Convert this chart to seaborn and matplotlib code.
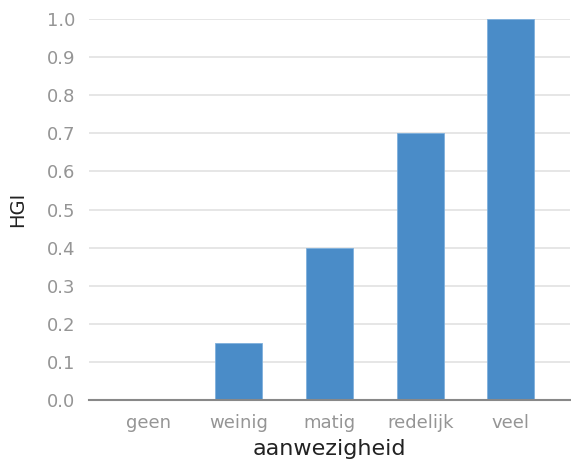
import matplotlib
matplotlib.use("Agg")
import matplotlib.pyplot as plt
import seaborn as sns
import pandas as pd

# Data
categories = ["geen", "weinig", "matig", "redelijk", "veel"]
hgi_values = [0.0, 0.15, 0.40, 0.70, 1.00]
y_ticks = [0.0, 0.1, 0.2, 0.3, 0.4, 0.5, 0.6, 0.7, 0.8, 0.9, 1.0]

df = pd.DataFrame({"aanwezigheid": categories, "HGI": hgi_values})

sns.set_theme(style="white")
plt.rcParams["font.family"] = ["DejaVu Sans"]

fig = plt.figure(figsize=(5.71, 4.67), dpi=100)
ax = fig.add_axes([0.156, 0.1435, 0.842, 0.8155])

sns.barplot(data=df, x="aanwezigheid", y="HGI", color="#4a8cc8",
            saturation=1, width=0.52, ax=ax, zorder=3,
            edgecolor="#7fb0dc", linewidth=0.6)

ax.set_xlim(-0.65, 4.65)
ax.set_ylim(0, 1.0)
ax.set_yticks(y_ticks)
ax.set_yticklabels([f"{t:.1f}" for t in y_ticks])
ax.yaxis.grid(True, color="#e2e2e2", linewidth=1.2, zorder=0)
ax.set_axisbelow(True)

for side in ["left", "right", "top"]:
    ax.spines[side].set_visible(False)
ax.spines["bottom"].set_color("#888888")
ax.spines["bottom"].set_linewidth(1.5)
ax.spines["bottom"].set_zorder(4)

ax.tick_params(axis="both", length=0, labelsize=13, labelcolor="#959595")
ax.tick_params(axis="x", pad=10)
ax.tick_params(axis="y", pad=10)
ax.set_xlabel("aanwezigheid", fontsize=16, color="#222222", labelpad=5)
ax.set_ylabel("HGI", fontsize=14, color="#222222", labelpad=14)

fig.savefig("out.png", dpi=100)
plt.close(fig)
